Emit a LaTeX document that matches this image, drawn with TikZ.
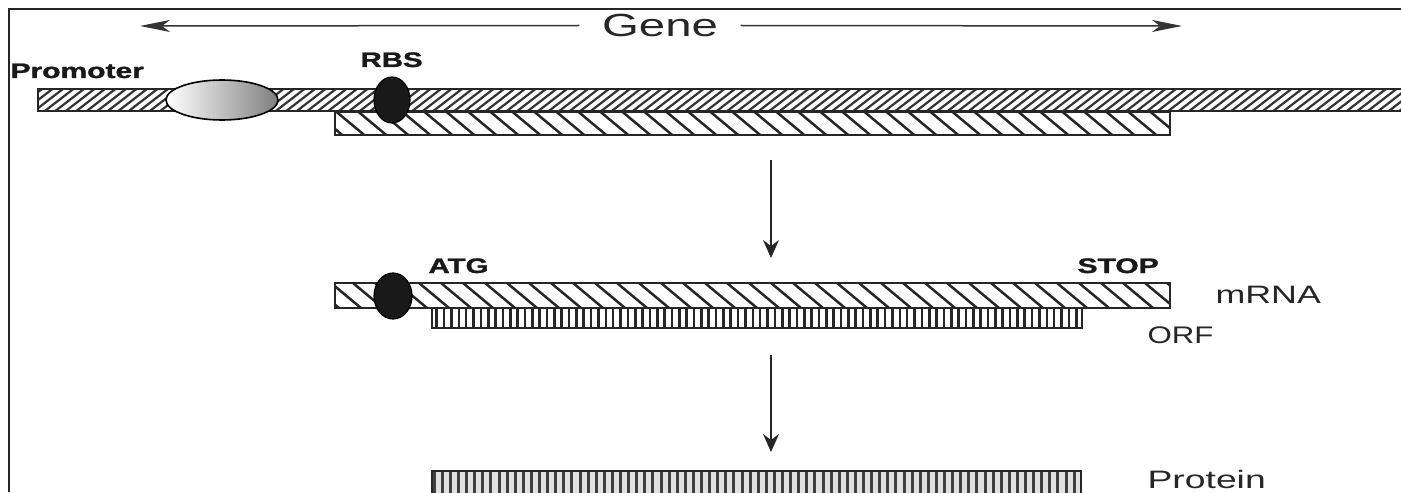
\documentclass[tikz,border=0pt]{standalone}
\usepackage{fontspec}
\setmainfont{Liberation Sans}
\newfontfamily\heavyfont{Liberation Sans Bold}[FakeBold=1.2]
\usetikzlibrary{arrows.meta,shapes.geometric}

% Hatched rectangle: x1, y1, x2, y2, line step, horizontal run per unit height, line style
\newcommand\hatchrect[7]{%
  \begin{scope}
    \clip (#1,#2) rectangle (#3,#4);
    \pgfmathsetmacro\hh{#4-#2}
    \pgfmathsetmacro\xs{#1-1.6*\hh}
    \pgfmathsetmacro\xn{#1-1.6*\hh+#5}
    \pgfmathsetmacro\xe{#3+1.6*\hh}
    \foreach \xx in {\xs,\xn,...,\xe}
      \draw[#7] (\xx,#4) -- ++({#6*\hh},-\hh);
  \end{scope}}

\tikzset{
  frame/.style={line width=1pt, black!85},
  box/.style={line width=0.8pt, black!85},
  dnahatch/.style={line width=1.1pt, black!80},
  widehatch/.style={line width=1.25pt, black!85},
  orfhatch/.style={line width=1.3pt, black!85},
  prothatch/.style={line width=1.5pt, black!75},
  genearrow/.style={line width=0.75pt, black!80, -{Stealth[length=15pt,width=6pt,inset=4pt]}},
  steparrow/.style={line width=0.9pt, black!85, -{Stealth[length=9pt,width=8pt,inset=3pt]}},
  lbl/.style={inner sep=0pt, anchor=base west, black!85},
  tag/.style={inner sep=0pt, anchor=base west, font=\heavyfont\fontsize{10.5}{12}\selectfont, xscale=1.40, black!90},
  rbsdot/.style={ellipse, draw=black, line width=0.6pt, fill=black!90, inner sep=0pt},
}

\begin{document}
\begin{tikzpicture}[x=0.5pt,y=-0.5pt]
\useasboundingbox (0,0) rectangle (1401,492);
\begin{scope}
\clip (0,0) rectangle (1401,492);

% frame edges
\draw[frame] (9,492) -- (9,9) -- (1401,9);

% gene span
\node[inner sep=0pt, inner xsep=7.5pt, font=\fontsize{16}{18}\selectfont, xscale=1.48, black!85] (gene) at (660,25.5) {Gene};
\coordinate (geneL) at (140,26);
\coordinate (geneR) at (1182,26);
\draw[genearrow] (gene.west) -- (geneL);
\draw[genearrow] (gene.east) -- (geneR);

% DNA: upper strand and coding strand
\hatchrect{38}{89}{1420}{111}{10.5}{1.3}{dnahatch}
\draw[box] (38,89) rectangle (1420,111);
\hatchrect{335}{112}{1170}{135}{22}{-1.2}{widehatch}
\draw[box] (335,112) rectangle (1170,135);

% promoter and ribosome binding site on DNA
\node[ellipse, draw=black, line width=0.8pt, left color=white, right color=black!50,
      minimum width=56pt, minimum height=20pt, inner sep=0pt] (prom) at (222,100) {};
\node[rbsdot, minimum width=18pt, minimum height=23pt] (rbs1) at (392,100) {};
\node[tag, xscale=1.02] (promlbl) at (10,78) {Promoter};
\node[tag] (rbslbl) at (360,67) {RBS};

% transcription
\coordinate (t1) at (771,160);
\coordinate (t2) at (771,258);
\draw[steparrow] (t1) -- (t2);

% mRNA and open reading frame
\hatchrect{335}{283}{1170}{308}{22}{-1.2}{widehatch}
\draw[box] (335,283) rectangle (1170,308);
\hatchrect{432}{308}{1082}{328}{7.35}{0}{orfhatch}
\draw[box] (432,308) rectangle (1082,328);
\node[rbsdot, minimum width=19pt, minimum height=23pt] (rbs2) at (393,296) {};
\node[tag] (atg) at (428,273) {ATG};
\node[tag, xscale=1.02] (stop) at (1077,273) {STOP};
\node[lbl, font=\fontsize{12.6}{15}\selectfont, xscale=1.42] (mrna) at (1215,303) {mRNA};
\node[lbl, font=\fontsize{12}{14}\selectfont, xscale=1.3] (orf) at (1147,343) {ORF};

% translation
\coordinate (p1) at (771,355);
\coordinate (p2) at (771,452);
\draw[steparrow] (p1) -- (p2);

% protein
\fill[black!12] (432,471) rectangle (1081,500);
\hatchrect{432}{471}{1081}{500}{8.1}{0}{prothatch}
\draw[box] (432,500) -- (432,471) -- (1081,471) -- (1081,500);
\node[lbl, font=\fontsize{12.6}{15}\selectfont, xscale=1.48] (prot) at (1147,488) {Protein};
\end{scope}
\end{tikzpicture}
\end{document}
